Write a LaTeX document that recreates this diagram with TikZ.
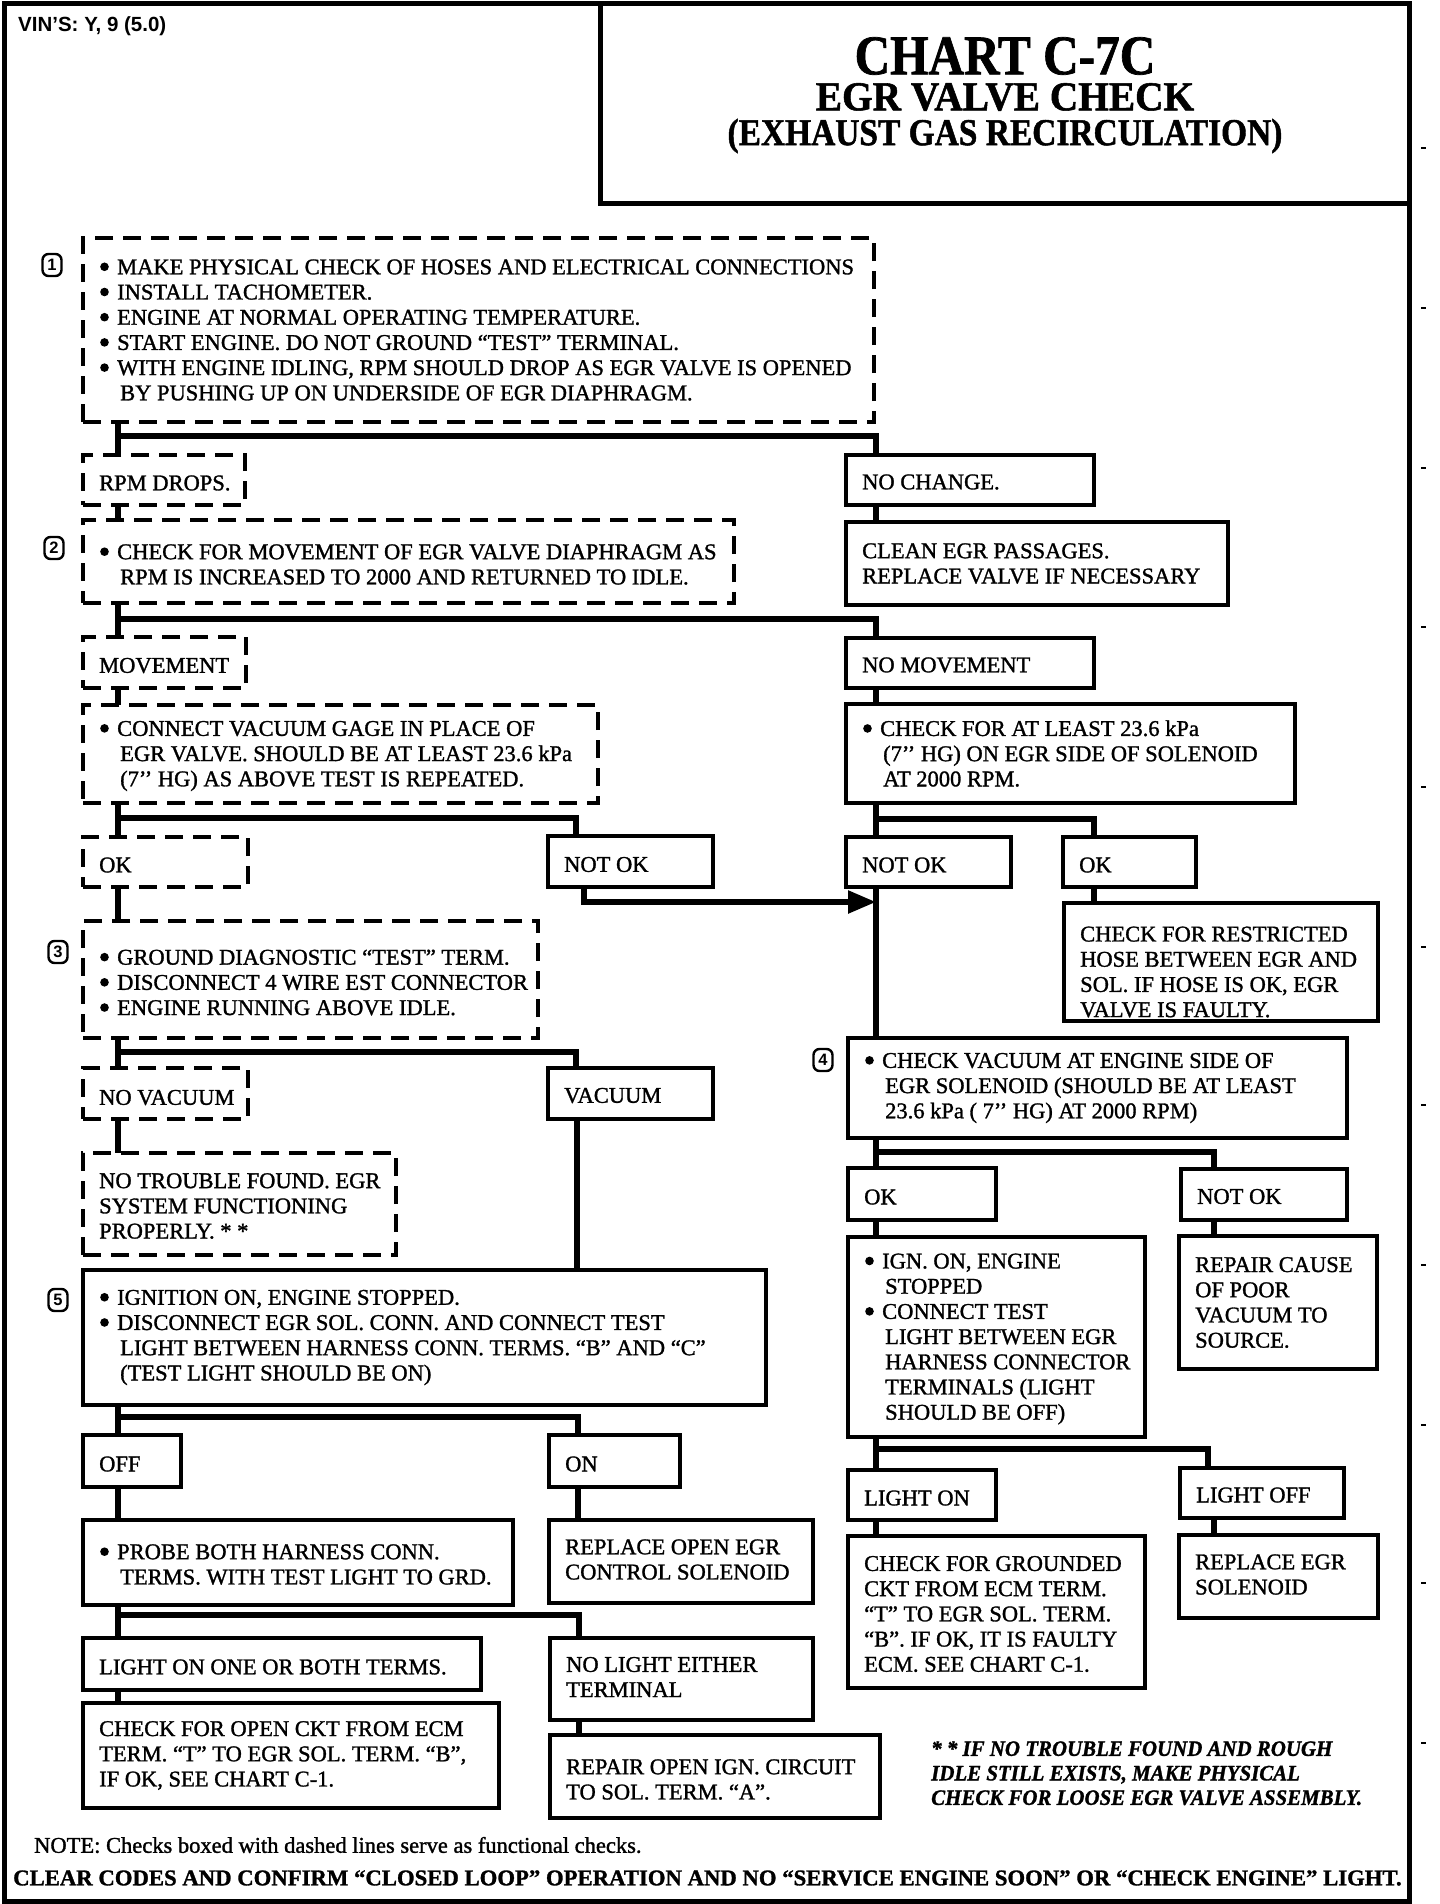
\documentclass[tikz,border=0pt]{standalone}
\usepackage{fontspec}
\setmainfont{Liberation Serif}[FakeBold=1.3]
\setsansfont{Liberation Sans}
\usetikzlibrary{arrows.meta}
\newcommand\bul{\makebox[18pt][l]{\hspace{1pt}\tikz[baseline={(0pt,-7.5pt)}]\fill (0pt,0pt) circle (4.3pt);}}
\newcommand\ind{\hspace*{21pt}}
\newcommand\mybox[6]{%
  \pgfmathsetmacro\bw{#5-#3}\pgfmathsetmacro\bh{#6-#4}%
  \node[#1, minimum width=\bw pt, minimum height=\bh pt] (#2) at (#3,#4) {};}
\newcommand\tx[4][0]{\node[txt] (#2) at ([xshift=16pt,yshift=-#1pt]#3.west) {#4};}
\begin{document}
\begin{tikzpicture}[x=1pt,y=-1pt,line join=miter,
  sbox/.style={draw, line width=4pt, inner sep=0pt, outer sep=0pt, anchor=north west},
  dbox/.style={draw, line width=3.6pt, dash pattern=on 18pt off 10pt, inner sep=0pt, outer sep=0pt, anchor=north west},
  txt/.style={inner sep=0pt, anchor=west, align=left, font=\fontsize{22.5}{25.2}\selectfont},
  conn/.style={line width=5.5pt},
  numbox/.style={draw, line width=2.4pt, rounded corners=6pt, minimum width=19pt, minimum height=22pt, inner sep=0pt, font=\sffamily\bfseries\fontsize{16.5}{16.5}\selectfont}]
\useasboundingbox (0,0) rectangle (1440,1904);
% frame and header
\draw[line width=5pt] (4,3) rectangle (1409,1901);
\draw[line width=5pt] (600,3) -- (600,203) -- (1409,203);
\foreach \yy in {148,308,468,627,787,947,1105,1265,1425,1583,1743}
  \draw[line width=1.5pt] (1421,\yy) -- (1426,\yy);
\node[inner sep=0pt, anchor=west, font=\sffamily\bfseries\fontsize{20.5}{22}\selectfont] (vin) at (18,26) {VIN'S: Y, 9 (5.0)};
\node[inner sep=0pt, font=\bfseries\fontsize{56}{56}\selectfont] (title1) at (1005,56) {\scalebox{0.88}[1]{CHART C-7C}};
\node[inner sep=0pt, font=\bfseries\fontsize{41}{41}\selectfont] (title2) at (1005,97) {\scalebox{0.96}[1]{EGR VALVE CHECK}};
\node[inner sep=0pt, font=\bfseries\fontsize{38}{38}\selectfont] (title3) at (1005,136) {\scalebox{0.88}[1]{(EXHAUST GAS RECIRCULATION)}};
% boxes
\mybox{dbox}{b1}{83}{238}{874}{422}
\mybox{dbox}{rpm}{83}{455}{245}{505}
\mybox{sbox}{nochg}{846}{455}{1094}{505}
\mybox{sbox}{clean}{846}{522}{1228}{605}
\mybox{dbox}{b2}{83}{520}{734}{603}
\mybox{dbox}{move}{83}{637}{246}{688}
\mybox{sbox}{nomove}{846}{638}{1094}{688}
\mybox{dbox}{vac}{83}{705}{598}{803}
\mybox{sbox}{chk}{846}{704}{1295}{803}
\mybox{dbox}{okA}{83}{837}{248}{887}
\mybox{sbox}{notokA}{548}{836}{713}{887}
\mybox{sbox}{notokB}{846}{837}{1011}{887}
\mybox{sbox}{okB}{1063}{837}{1196}{887}
\mybox{sbox}{restr}{1064}{903}{1378}{1021}
\mybox{dbox}{b3}{83}{921}{538}{1038}
\mybox{sbox}{b4}{848}{1038}{1347}{1138}
\mybox{dbox}{novac}{83}{1068}{248}{1119}
\mybox{sbox}{vacB}{548}{1068}{713}{1119}
\mybox{dbox}{ntf}{83}{1153}{396}{1255}
\mybox{sbox}{okC}{848}{1168}{996}{1220}
\mybox{sbox}{notokC}{1181}{1169}{1347}{1220}
\mybox{sbox}{ign}{848}{1237}{1145}{1437}
\mybox{sbox}{repair}{1179}{1236}{1377}{1369}
\mybox{sbox}{b5}{83}{1270}{766}{1405}
\mybox{sbox}{off}{83}{1435}{181}{1487}
\mybox{sbox}{on}{549}{1435}{680}{1487}
\mybox{sbox}{lon}{848}{1470}{996}{1520}
\mybox{sbox}{loff}{1180}{1468}{1344}{1518}
\mybox{sbox}{probe}{83}{1520}{513}{1605}
\mybox{sbox}{replopen}{549}{1520}{813}{1603}
\mybox{sbox}{chkgnd}{848}{1536}{1145}{1688}
\mybox{sbox}{replegr}{1179}{1535}{1378}{1618}
\mybox{sbox}{lone}{83}{1638}{481}{1690}
\mybox{sbox}{nolight}{550}{1638}{813}{1720}
\mybox{sbox}{chkopen}{83}{1703}{499}{1808}
\mybox{sbox}{repign}{550}{1735}{880}{1818}
% texts
\tx{b1t}{b1}{\bul MAKE PHYSICAL CHECK OF HOSES AND ELECTRICAL CONNECTIONS\\\bul INSTALL TACHOMETER.\\\bul ENGINE AT NORMAL OPERATING TEMPERATURE.\\\bul START ENGINE. DO NOT GROUND “TEST” TERMINAL.\\\bul WITH ENGINE IDLING, RPM SHOULD DROP AS EGR VALVE IS OPENED\\\ind BY PUSHING UP ON UNDERSIDE OF EGR DIAPHRAGM.}
\tx[3]{rpmt}{rpm}{RPM DROPS.}
\tx[2]{nochgt}{nochg}{NO CHANGE.}
\tx{cleant}{clean}{CLEAN EGR PASSAGES.\\REPLACE VALVE IF NECESSARY}
\tx[3]{b2t}{b2}{\bul CHECK FOR MOVEMENT OF EGR VALVE DIAPHRAGM AS\\\ind RPM IS INCREASED TO 2000 AND RETURNED TO IDLE.}
\tx[3]{movet}{move}{MOVEMENT}
\tx[2]{nomovet}{nomove}{NO MOVEMENT}
\tx[2]{vact}{vac}{\bul CONNECT VACUUM GAGE IN PLACE OF\\\ind EGR VALVE. SHOULD BE AT LEAST 23.6 kPa\\\ind (7’’ HG) AS ABOVE TEST IS REPEATED.}
\tx{chkt}{chk}{\bul CHECK FOR AT LEAST 23.6 kPa\\\ind (7’’ HG) ON EGR SIDE OF SOLENOID\\\ind AT 2000 RPM.}
\tx[3]{okAt}{okA}{OK}
\tx[3]{notokAt}{notokA}{NOT OK}
\tx[3]{notokBt}{notokB}{NOT OK}
\tx[3]{okBt}{okB}{OK}
\tx[10]{restrt}{restr}{CHECK FOR RESTRICTED\\HOSE BETWEEN EGR AND\\SOL. IF HOSE IS OK, EGR\\VALVE IS FAULTY.}
\tx[3]{b3t}{b3}{\bul GROUND DIAGNOSTIC “TEST” TERM.\\\bul DISCONNECT 4 WIRE EST CONNECTOR\\\bul ENGINE RUNNING ABOVE IDLE.}
\tx{b4t}{b4}{\bul CHECK VACUUM AT ENGINE SIDE OF\\\ind EGR SOLENOID (SHOULD BE AT LEAST\\\ind 23.6 kPa ( 7’’ HG) AT 2000 RPM)}
\tx[4]{novact}{novac}{NO VACUUM}
\tx[2]{vacBt}{vacB}{VACUUM}
\tx[2]{ntft}{ntf}{NO TROUBLE FOUND. EGR\\SYSTEM FUNCTIONING\\PROPERLY. * *}
\tx[3]{okCt}{okC}{OK}
\tx[2]{notokCt}{notokC}{NOT OK}
\tx[2]{ignt}{ign}{\bul IGN. ON, ENGINE\\\ind STOPPED\\\bul CONNECT TEST\\\ind LIGHT BETWEEN EGR\\\ind HARNESS CONNECTOR\\\ind TERMINALS (LIGHT\\\ind SHOULD BE OFF)}
\tx{repairt}{repair}{REPAIR CAUSE\\OF POOR\\VACUUM TO\\SOURCE.}
\tx{b5t}{b5}{\bul IGNITION ON, ENGINE STOPPED.\\\bul DISCONNECT EGR SOL. CONN. AND CONNECT TEST\\\ind LIGHT BETWEEN HARNESS CONN. TERMS. “B” AND “C”\\\ind (TEST LIGHT SHOULD BE ON)}
\tx[3]{offt}{off}{OFF}
\tx[3]{ont}{on}{ON}
\tx[3]{lont}{lon}{LIGHT ON}
\tx[2]{lofft}{loff}{LIGHT OFF}
\tx[2]{probet}{probe}{\bul PROBE BOTH HARNESS CONN.\\\ind TERMS. WITH TEST LIGHT TO GRD.}
\tx[-2]{replopent}{replopen}{REPLACE OPEN EGR\\CONTROL SOLENOID}
\tx[2]{chkgndt}{chkgnd}{CHECK FOR GROUNDED\\CKT FROM ECM TERM.\\“T” TO EGR SOL. TERM.\\“B”. IF OK, IT IS FAULTY\\ECM. SEE CHART C-1.}
\tx[-2]{replegrt}{replegr}{REPLACE EGR\\SOLENOID}
\tx[3]{lonet}{lone}{LIGHT ON ONE OR BOTH TERMS.}
\tx[-2]{nolightt}{nolight}{NO LIGHT EITHER\\TERMINAL}
\tx{chkopent}{chkopen}{CHECK FOR OPEN CKT FROM ECM\\TERM. “T” TO EGR SOL. TERM. “B”,\\IF OK, SEE CHART C-1.}
\tx[3]{repignt}{repign}{REPAIR OPEN IGN. CIRCUIT\\TO SOL. TERM. “A”.}
% step numbers
\node[numbox] (n1) at (52,265) {1};
\node[numbox] (n2) at (54,548) {2};
\node[numbox] (n3) at (58,952) {3};
\node[numbox] (n4) at (823,1060) {4};
\node[numbox] (n5) at (58,1300) {5};
% connectors
\draw[conn] ([xshift=35pt]b1.south west) -- ([xshift=35pt]rpm.north west);
\draw[conn] ([xshift=35pt,yshift=-14pt]b1.south west) -| ([xshift=30pt]nochg.north west);
\draw[conn] ([xshift=35pt]rpm.south west) -- ([xshift=35pt]b2.north west);
\draw[conn] ([xshift=30pt]nochg.south west) -- ([xshift=30pt]clean.north west);
\draw[conn] ([xshift=35pt]b2.south west) -- ([xshift=35pt]move.north west);
\draw[conn] ([xshift=35pt,yshift=-16pt]b2.south west) -| ([xshift=30pt]nomove.north west);
\draw[conn] ([xshift=35pt]move.south west) -- ([xshift=35pt]vac.north west);
\draw[conn] ([xshift=30pt]nomove.south west) -- ([xshift=30pt]chk.north west);
\draw[conn] ([xshift=35pt]vac.south west) -- ([xshift=35pt]okA.north west);
\draw[conn] ([xshift=35pt,yshift=-15pt]vac.south west) -| ([xshift=28pt]notokA.north west);
\draw[conn] ([xshift=30pt]chk.south west) -- ([xshift=30pt]notokB.north west);
\draw[conn] ([xshift=30pt,yshift=-16pt]chk.south west) -| ([xshift=31pt]okB.north west);
\draw[conn] ([xshift=31pt]okB.south west) -- ([xshift=30pt]restr.north west);
\draw[conn] ([xshift=30pt]notokB.south west) -- ([xshift=28pt]b4.north west);
\coordinate (arr) at ([xshift=30pt,yshift=-15pt]notokB.south west);
\draw[conn,-{Triangle[length=28pt,width=22pt]}] ([xshift=36pt]notokA.south west) |- (arr);
\draw[conn] ([xshift=35pt]okA.south west) -- ([xshift=35pt]b3.north west);
\draw[conn] ([xshift=35pt]b3.south west) -- ([xshift=35pt]novac.north west);
\draw[conn] ([xshift=35pt,yshift=-14pt]b3.south west) -| ([xshift=28pt]vacB.north west);
\draw[conn] ([xshift=35pt]novac.south west) -- ([xshift=35pt]ntf.north west);
\coordinate (vb) at ([xshift=29pt]vacB.south west);
\draw[conn] (vb) -- (vb |- b5.north);
\draw[conn] ([xshift=35pt]b5.south west) -- ([xshift=35pt]off.north west);
\draw[conn] ([xshift=35pt,yshift=-12pt]b5.south west) -| ([xshift=29pt]on.north west);
\draw[conn] ([xshift=35pt]off.south west) -- ([xshift=35pt]probe.north west);
\draw[conn] ([xshift=29pt]on.south west) -- ([xshift=29pt]replopen.north west);
\draw[conn] ([xshift=35pt]probe.south west) -- ([xshift=35pt]lone.north west);
\draw[conn] ([xshift=35pt,yshift=-10pt]probe.south west) -| ([xshift=29pt]nolight.north west);
\draw[conn] ([xshift=35pt]lone.south west) -- ([xshift=35pt]chkopen.north west);
\draw[conn] ([xshift=29pt]nolight.south west) -- ([xshift=29pt]repign.north west);
\draw[conn] ([xshift=28pt]b4.south west) -- ([xshift=28pt]okC.north west);
\draw[conn] ([xshift=28pt,yshift=-14pt]b4.south west) -| ([xshift=33pt]notokC.north west);
\draw[conn] ([xshift=28pt]okC.south west) -- ([xshift=28pt]ign.north west);
\draw[conn] ([xshift=33pt]notokC.south west) -- ([xshift=35pt]repair.north west);
\draw[conn] ([xshift=28pt]ign.south west) -- ([xshift=28pt]lon.north west);
\draw[conn] ([xshift=28pt,yshift=-12pt]ign.south west) -| ([xshift=28pt]loff.north west);
\draw[conn] ([xshift=28pt]lon.south west) -- ([xshift=28pt]chkgnd.north west);
\draw[conn] ([xshift=34pt]loff.south west) -- ([xshift=35pt]replegr.north west);
% notes
\node[inner sep=0pt, anchor=north west, align=left, font=\bfseries\itshape\fontsize{22}{24.5}\selectfont] (fn) at (931,1741) {\scalebox{0.95}[1]{* * IF NO TROUBLE FOUND AND ROUGH}\\\scalebox{0.95}[1]{IDLE STILL EXISTS, MAKE PHYSICAL}\\\scalebox{0.95}[1]{CHECK FOR LOOSE EGR VALVE ASSEMBLY.}};
\node[inner sep=0pt, anchor=west, font=\fontsize{22.5}{24}\selectfont] (note) at (34,1845) {NOTE: Checks boxed with dashed lines serve as functional checks.};
\node[inner sep=0pt, anchor=west, font=\bfseries\fontsize{22.5}{24}\selectfont] (clear) at (13,1878) {\scalebox{1.01}[1]{CLEAR CODES AND CONFIRM “CLOSED LOOP” OPERATION AND NO “SERVICE ENGINE SOON” OR “CHECK ENGINE” LIGHT.}};
\end{tikzpicture}
\end{document}
